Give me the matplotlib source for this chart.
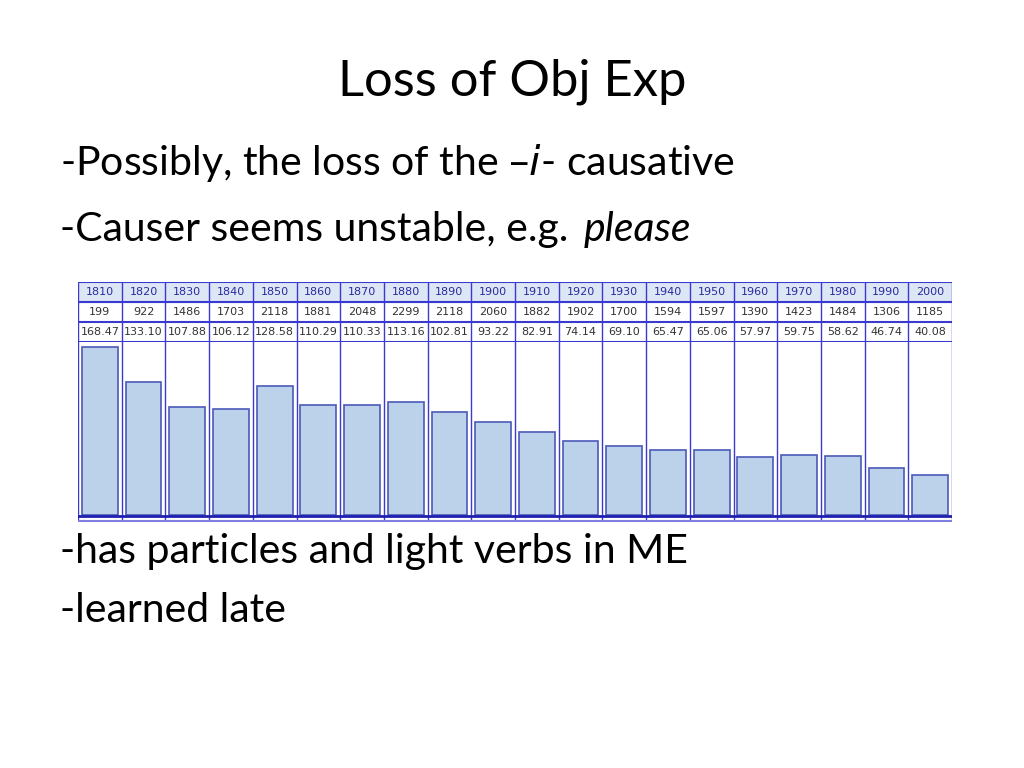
import matplotlib
matplotlib.use("Agg")
import matplotlib.pyplot as plt

decades = ["1810","1820","1830","1840","1850","1860","1870","1880","1890","1900",
           "1910","1920","1930","1940","1950","1960","1970","1980","1990","2000"]
counts = [199,922,1486,1703,2118,1881,2048,2299,2118,2060,1882,1902,1700,1594,1597,1390,1423,1484,1306,1185]
per_million = [168.47,133.10,107.88,106.12,128.58,110.29,110.33,113.16,102.81,93.22,
               82.91,74.14,69.10,65.47,65.06,57.97,59.75,58.62,46.74,40.08]

font = ["Lato", "DejaVu Sans"]
fig = plt.figure(figsize=(10.24, 7.68), dpi=100)
fig.patch.set_facecolor("white")

fig.text(0.5, 1-82/768, "Loss of Obj Exp", ha="center", va="center", fontsize=36.5, family=font)
fs = 29.5
fig.text(0.059, 1-163/768, "-Possibly, the loss of the \u2013$\\it{i}$- causative", va="center", fontsize=fs, family=font)
t = fig.text(0.059, 1-230/768, "-Causer seems unstable, e.g. ", va="center", fontsize=fs, family=font)
r = fig.canvas.get_renderer()
bb = t.get_window_extent(renderer=r)
fig.text(bb.x1/1024 + 0.004, 1-230/768, "please", va="center", fontsize=fs, family=font, style="italic")
fig.text(0.059, 1-551/768, "-has particles and light verbs in ME", va="center", fontsize=fs, family=font)
fig.text(0.059, 1-610/768, "-learned late", va="center", fontsize=fs, family=font)

L, W = 78/1024, 874/1024
n = len(decades)
edge = "#3a3ad0"

# bars
ax = fig.add_axes([L, 1-522/768, W, 180/768])
x = list(range(n))
ax.bar(x, per_million, width=0.82, color="#bcd2ea", edgecolor="#4a5ab8", linewidth=1.2)
ax.set_xlim(-0.5, n-0.5)
ax.set_ylim(-7, 173)
for i in range(n+1):
    ax.axvline(i-0.5, color=edge, lw=1)
ax.axhline(-1, color="#2020b0", lw=2)
ax.axhline(-6, color="#8080e0", lw=1.5)
ax.set_xticks([]); ax.set_yticks([])
for s in ax.spines.values():
    s.set_visible(False)

# table
tx = fig.add_axes([L, 1-342/768, W, 60/768])
tx.set_xlim(-0.5, n-0.5)
tx.set_ylim(0, 3)
tx.axhspan(2, 3, color="#dce6f5")
for yy in [0, 1, 2, 3]:
    tx.axhline(yy, color=edge, lw=1.5)
for i in range(n+1):
    tx.axvline(i-0.5, color=edge, lw=1)
for i in range(n):
    tx.text(i, 2.5, decades[i], ha="center", va="center", fontsize=8, color="#2a2aa0")
    tx.text(i, 1.5, str(counts[i]), ha="center", va="center", fontsize=8, color="#333333")
    tx.text(i, 0.5, f"{per_million[i]:.2f}", ha="center", va="center", fontsize=8, color="#333333")
tx.set_xticks([]); tx.set_yticks([])
for s in tx.spines.values():
    s.set_visible(False)

fig.savefig("out.png", dpi=100)
